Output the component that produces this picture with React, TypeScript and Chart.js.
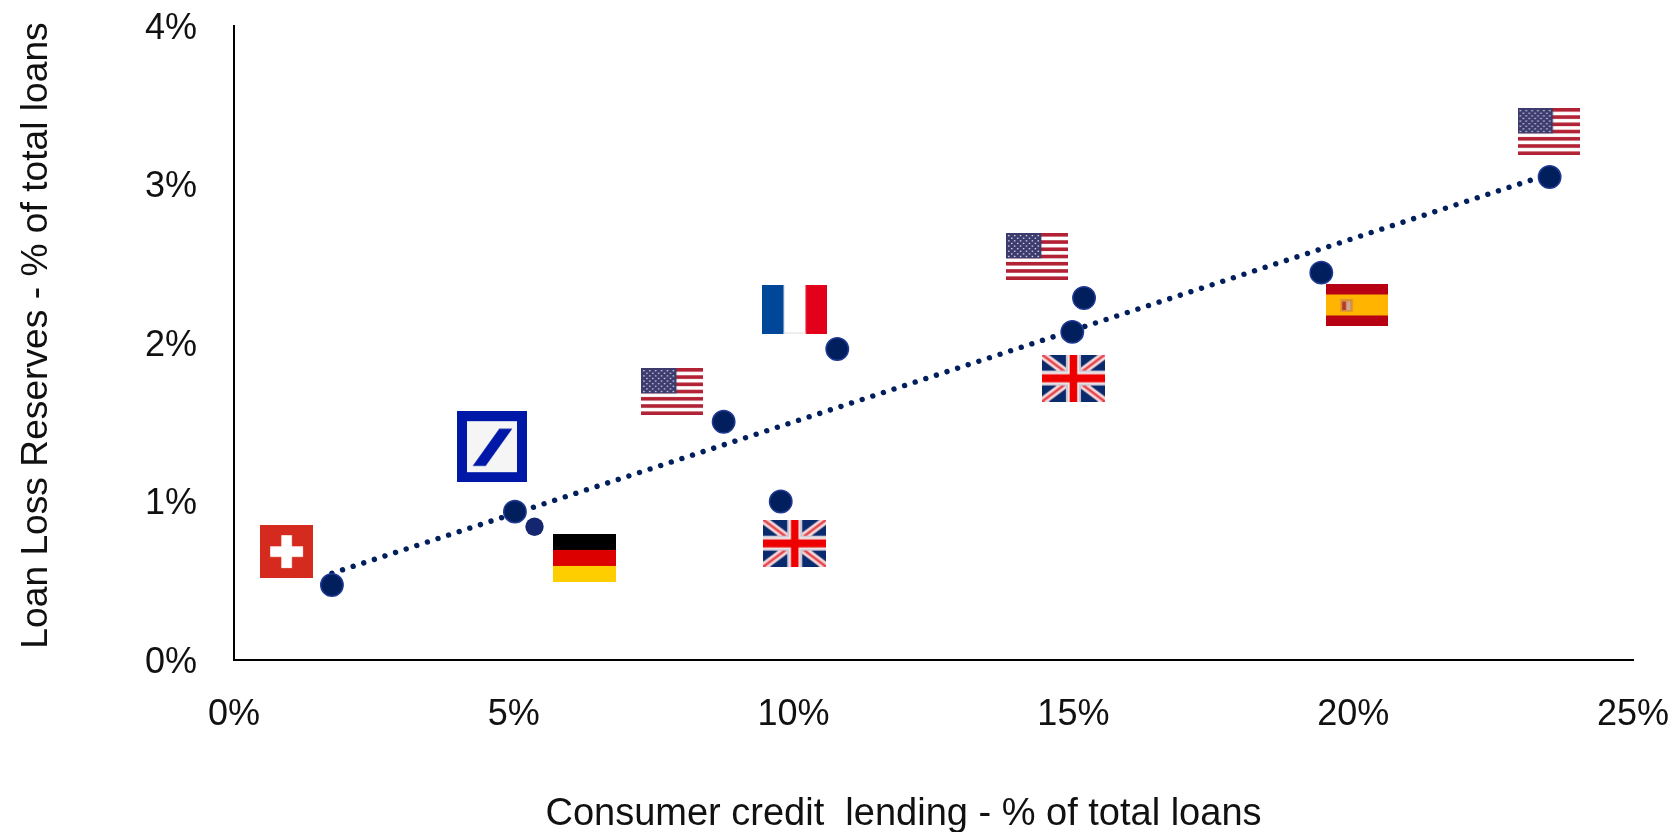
import React, { useEffect, useRef } from "react";
import { Chart, registerables } from "chart.js";

Chart.register(...registerables);

const xAxisTicks = [0, 5, 10, 15, 20, 25];
const yAxisTicks = [0, 1, 2, 3, 4];
const xTitle = "Consumer credit  lending - % of total loans";
const yTitle = "Loan Loss Reserves - % of total loans";

const bankX = [1.75, 5.02, 8.75, 10.78, 9.77, 15.19, 14.98, 19.43, 23.51];
const bankY = [0.473, 0.936, 1.503, 1.962, 1.0, 2.284, 2.07, 2.444, 3.047];
const germanyX = [5.37];
const germanyY = [0.841];
const trendX = [1.75, 23.51];
const trendY = [0.547, 3.066];

const flagNames = ["ch", "db", "de", "us", "fr", "uk", "us", "uk", "es", "us"];
const flagX = [0.94, 4.61, 6.27, 7.83, 10.02, 10.02, 14.35, 15.0, 20.07, 23.49];
const flagY = [0.684, 1.346, 0.644, 1.694, 2.211, 0.737, 2.546, 1.779, 2.240, 3.334];

const sizes: Record<string, number[]> = {
  ch: [53, 53], db: [70, 71], de: [63, 48], us: [62, 47], fr: [65, 49], uk: [63, 47], es: [62, 42],
};

function makeFlag(name: string) {
  const [w, h] = sizes[name];
  const c = document.createElement("canvas");
  c.width = w;
  c.height = h;
  const g = c.getContext("2d")!;
  const rect = (col: string, x: number, y: number, rw: number, rh: number) => {
    g.fillStyle = col;
    g.fillRect(x, y, rw, rh);
  };
  if (name === "ch") {
    rect("#d52b1e", 0, 0, w, h);
    rect("#ffffff", w * 0.4, h * 0.19, w * 0.2, h * 0.62);
    rect("#ffffff", w * 0.19, h * 0.4, w * 0.62, h * 0.2);
  } else if (name === "db") {
    rect("#0018a8", 0, 0, w, h);
    rect("#f5f5f5", 10, 10, w - 20, h - 20);
    g.fillStyle = "#0018a8";
    g.beginPath();
    g.moveTo(42.3, 17.5);
    g.lineTo(55.3, 17.5);
    g.lineTo(28.7, 54.8);
    g.lineTo(15.7, 54.8);
    g.closePath();
    g.fill();
  } else if (name === "de") {
    rect("#000000", 0, 0, w, h / 3);
    rect("#dd0000", 0, h / 3, w, h / 3);
    rect("#ffce00", 0, (2 * h) / 3, w, h / 3);
  } else if (name === "fr") {
    rect("#00479a", 0, 0, w / 3, h);
    rect("#ffffff", w / 3, 0, w / 3, h);
    rect("#e2001a", (2 * w) / 3, 0, w / 3, h);
    rect("#eeeeee", w / 3, h - 2, w / 3, 2);
  } else if (name === "es") {
    rect("#b80014", 0, 0, w, h);
    rect("#ffb400", 0, h * 0.25, w, h * 0.5);
    rect("#d8903a", w * 0.23, h * 0.36, w * 0.2, h * 0.3);
    rect("#b83a28", w * 0.26, h * 0.42, w * 0.06, h * 0.2);
    rect("#c8a8a0", w * 0.33, h * 0.42, w * 0.06, h * 0.2);
  } else if (name === "uk") {
    rect("#0a2a6e", 0, 0, w, h);
    g.lineCap = "butt";
    g.strokeStyle = "#f4d8d8";
    g.lineWidth = 8;
    g.beginPath();
    g.moveTo(0, 0);
    g.lineTo(w, h);
    g.moveTo(w, 0);
    g.lineTo(0, h);
    g.stroke();
    g.strokeStyle = "#e8404a";
    g.lineWidth = 2.5;
    g.stroke();
    rect("#c8c4d4", w * 0.38, 0, w * 0.24, h);
    rect("#c8c4d4", 0, h * 0.34, w, h * 0.32);
    rect("#f0e8ea", w * 0.41, 0, w * 0.18, h);
    rect("#f0e8ea", 0, h * 0.37, w, h * 0.26);
    rect("#ee0000", w * 0.44, 0, w * 0.12, h);
    rect("#ee0000", 0, h * 0.42, w, h * 0.17);
  } else {
    rect("#ffffff", 0, 0, w, h);
    const stripe = h / 13;
    for (let i = 0; i < 13; i += 2) rect("#b22234", 0, i * stripe, w, stripe);
    rect("#3c3b6e", 0, 0, w * 0.57, stripe * 7);
    g.fillStyle = "#d8d8e8";
    for (let r = 0; r < 9; r++) {
      const n = r % 2 ? 5 : 6;
      for (let i = 0; i < n; i++) {
        g.fillRect(2 + (r % 2 ? 3 : 0) + i * 5.9, 2 + r * 2.6, 1.5, 1.3);
      }
    }
  }
  return c;
}

// Nudges an axis title away from the centre of its axis, as in the reference.
const shiftTitle = (s: any, dx: number, dy: number) => {
  const orig = s.drawTitle;
  if (s._titleShifted) return;
  s._titleShifted = true;
  s.drawTitle = function () {
    const ctx = s.ctx;
    ctx.save();
    ctx.translate(dx, dy);
    orig.call(s);
    ctx.restore();
  };
};

const noOverhang = (s: any) => {
  s.paddingTop = 0;
  s.paddingBottom = 0;
  s.paddingLeft = 0;
  s.paddingRight = 0;
};

export default function App() {
  const ref = useRef<HTMLCanvasElement>(null);
  useEffect(() => {
    document.body.style.margin = "0";
    const flagImages = flagNames.map(makeFlag);
    const chart = new Chart(ref.current!, {
      type: "scatter",
      data: {
        datasets: [
          {
            label: "Flags",
            data: flagX.map((x, i) => ({ x, y: flagY[i] })),
            pointStyle: flagImages as any,
            pointRadius: 10,
            clip: false,
            order: 0,
          },
          {
            label: "Banks",
            data: bankX.map((x, i) => ({ x, y: bankY[i] })),
            pointRadius: 11.2,
            backgroundColor: "#001f5c",
            borderColor: "#1f3a93",
            borderWidth: 1.5,
            order: 1,
          },
          {
            label: "Germany",
            data: germanyX.map((x, i) => ({ x, y: germanyY[i] })),
            pointRadius: 9.2,
            backgroundColor: "#13266f",
            borderWidth: 0,
            order: 2,
          },
          {
            label: "Trend",
            type: "line",
            data: trendX.map((x, i) => ({ x, y: trendY[i] })),
            borderColor: "#001f5c",
            borderWidth: 5.4,
            borderDash: [0.01, 11.15],
            borderCapStyle: "round",
            pointRadius: 0,
            order: 3,
          },
        ],
      },
      options: {
        animation: false,
        responsive: false,
        layout: { padding: { top: 26, right: 47, left: 0, bottom: 0 } },
        plugins: { legend: { display: false }, tooltip: { enabled: false } },
        scales: {
          x: {
            type: "linear",
            min: 0,
            max: 25,
            afterFit: (s: any) => { s.height = 172; noOverhang(s); },
            afterUpdate: (s: any) => shiftTitle(s, -30, 5.5),
            afterBuildTicks: (s: any) => { s.ticks = xAxisTicks.map((value) => ({ value })); },
            grid: { display: false, drawTicks: false },
            border: { color: "#000000", width: 2 },
            ticks: {
              callback: (v: any) => `${v}%`,
              font: { family: "'Liberation Sans'", size: 36 },
              color: "#111111",
              padding: 33,
              maxRotation: 0,
            },
            title: {
              display: true,
              text: xTitle,
              font: { family: "'Liberation Sans'", size: 38 },
              color: "#111111",
              padding: { top: 44, bottom: 0 },
            },
          },
          y: {
            type: "linear",
            min: 0,
            max: 4,
            afterFit: (s: any) => { s.width = 234; noOverhang(s); },
            afterUpdate: (s: any) => shiftTitle(s, 0, -7.5),
            afterBuildTicks: (s: any) => { s.ticks = yAxisTicks.map((value) => ({ value })); },
            grid: { display: false, drawTicks: false },
            border: { color: "#000000", width: 2 },
            ticks: {
              callback: (v: any) => `${v}%`,
              font: { family: "'Liberation Sans'", size: 36 },
              color: "#111111",
              padding: 37,
              labelOffset: 3,
            },
            title: {
              display: true,
              text: yTitle,
              font: { family: "'Liberation Sans'", size: 37.2 },
              color: "#111111",
              padding: { top: 14, bottom: 0 },
            },
          },
        },
      },
    } as any);
    return () => chart.destroy();
  }, []);
  return (
    <div style={{ position: "absolute", left: 0, top: 0, width: 1680, height: 832 }}>
      <canvas ref={ref} width={1680} height={832} style={{ display: "block" }} />
    </div>
  );
}
